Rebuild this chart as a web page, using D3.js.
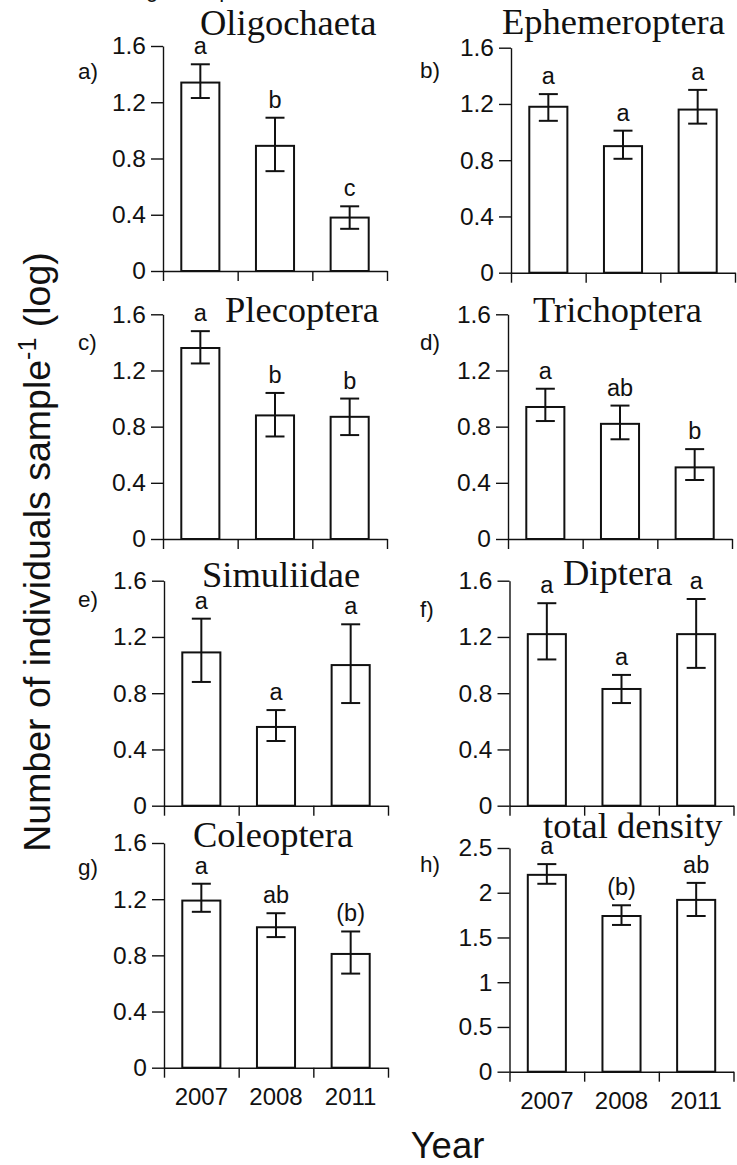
<!DOCTYPE html>
<html>
<head>
<meta charset="utf-8">
<script src="https://cdn.jsdelivr.net/npm/d3@7"></script>
<style>
  body { margin: 0; background: #fff; }
  svg { display: block; }
  text { font-family: "Liberation Sans", Arial, Helvetica, sans-serif; fill: #111; }
  .title { font-family: "Liberation Serif", "Times New Roman", serif; }
</style>
</head>
<body>
<svg id="chart" width="737" height="1165"></svg>
<script>
// chart values
const years = ["2007", "2008", "2011"];
const taxa = ["Oligochaeta", "Ephemeroptera", "Plecoptera", "Trichoptera",
              "Simuliidae", "Diptera", "Coleoptera", "total density"];
const tags = ["a)", "b)", "c)", "d)", "e)", "f)", "g)", "h)"];
const means = [
    [1.34, 0.89, 0.38], [1.18, 0.90, 1.16], [1.36, 0.88, 0.87], [0.94, 0.82, 0.51],
    [1.09, 0.56, 1.00], [1.22, 0.83, 1.22], [1.19, 1.00, 0.81], [2.20, 1.74, 1.92]
];
const errHi = [
    [1.47, 1.09, 0.46], [1.27, 1.01, 1.30], [1.48, 1.04, 1.00], [1.07, 0.95, 0.64],
    [1.33, 0.68, 1.29], [1.44, 0.93, 1.47], [1.31, 1.10, 0.97], [2.32, 1.86, 2.11]
];
const errLo = [
    [1.23, 0.71, 0.30], [1.08, 0.81, 1.06], [1.25, 0.73, 0.74], [0.84, 0.71, 0.42],
    [0.88, 0.46, 0.73], [1.04, 0.73, 0.98], [1.11, 0.93, 0.67], [2.10, 1.64, 1.74]
];
const letters = [
    ["a", "b", "c"], ["a", "a", "a"], ["a", "b", "b"], ["a", "ab", "b"],
    ["a", "a", "a"], ["a", "a", "a"], ["a", "ab", "(b)"], ["a", "(b)", "ab"]
];
const yMax = [1.6, 1.6, 1.6, 1.6, 1.6, 1.6, 1.6, 2.5];
const ticksSmall = [0, 0.4, 0.8, 1.2, 1.6];
const ticksTotal = [0, 0.5, 1, 1.5, 2, 2.5];

// panel placement on the page (axis x, top/bottom of y range, title anchor)
const layout = [
    { x0: 163,   top: 46,    bot: 271,    tx: 200, ty: 34.5, ly: 79 },
    { x0: 511,   top: 47.7,  bot: 272.7,  tx: 502, ty: 34,   ly: 78 },
    { x0: 163,   top: 314.3, bot: 539,    tx: 225, ty: 322,  ly: 350 },
    { x0: 508,   top: 314.3, bot: 539,    tx: 533, ty: 321.7, ly: 350 },
    { x0: 164,   top: 580.7, bot: 805.7,  tx: 202, ty: 586.7, ly: 606.7 },
    { x0: 509.5, top: 580.7, bot: 805.7,  tx: 563, ty: 585,  ly: 616.7 },
    { x0: 164,   top: 843,   bot: 1067.7, tx: 193, ty: 847,  ly: 875 },
    { x0: 509.5, top: 848,   bot: 1071.7, tx: 543, ty: 838,  ly: 871.7 }
];
const plotW = 224;

const svg = d3.select("#chart");

// cut-off text line at the very top of the page
svg.append("text").attr("x", 146).attr("y", -3).attr("font-size", 22)
    .style("white-space", "pre").text("g     ,    p");

taxa.forEach((name, k) => {
    const L = layout[k];
    const g = svg.append("g");
    const y = d3.scaleLinear().domain([0, yMax[k]]).range([L.bot, L.top]);
    const x = d3.scaleBand().domain(years).range([L.x0, L.x0 + plotW])
        .paddingInner(0.49).paddingOuter(0.245);
    const xt = d3.scaleLinear().domain([0, years.length]).range([L.x0, L.x0 + plotW]);

    // y axis
    const ya = g.append("g").attr("transform", `translate(${L.x0},0)`)
        .call(d3.axisLeft(y).tickValues(yMax[k] > 2 ? ticksTotal : ticksSmall)
            .tickFormat(d3.format("~g")).tickSize(12).tickPadding(5).tickSizeOuter(0));
    ya.selectAll("text").attr("font-size", 24.5).attr("font-family", null).attr("fill", "#111");

    // x axis with ticks at the band edges
    g.append("g").attr("transform", `translate(0,${L.bot})`)
        .call(d3.axisBottom(xt).tickValues(d3.range(years.length + 1))
            .tickFormat("").tickSize(10).tickSizeOuter(0));
    g.selectAll(".domain, .tick line").attr("stroke", "#111").attr("stroke-width", 1.4);

    // bars
    g.selectAll("rect.bar").data(means[k]).join("rect").attr("class", "bar")
        .attr("x", (d, i) => x(years[i])).attr("width", x.bandwidth())
        .attr("y", d => y(d)).attr("height", d => y(0) - y(d))
        .attr("fill", "#fff").attr("stroke", "#111").attr("stroke-width", 2);

    // error bars
    const cap = 9.5;
    const eb = g.selectAll("g.err").data(means[k]).join("g").attr("class", "err")
        .attr("stroke", "#111").attr("stroke-width", 2);
    eb.append("line")
        .attr("x1", (d, i) => x(years[i]) + x.bandwidth() / 2).attr("x2", (d, i) => x(years[i]) + x.bandwidth() / 2)
        .attr("y1", (d, i) => y(errHi[k][i])).attr("y2", (d, i) => y(errLo[k][i]));
    [errHi[k], errLo[k]].forEach(arr => {
        eb.append("line")
            .attr("x1", (d, i) => x(years[i]) + x.bandwidth() / 2 - cap)
            .attr("x2", (d, i) => x(years[i]) + x.bandwidth() / 2 + cap)
            .attr("y1", (d, i) => y(arr[i])).attr("y2", (d, i) => y(arr[i]));
    });

    // significance letters
    g.selectAll("text.sig").data(letters[k]).join("text").attr("class", "sig")
        .attr("x", (d, i) => x(years[i]) + x.bandwidth() / 2)
        .attr("y", (d, i) => y(errHi[k][i]) - 10)
        .attr("text-anchor", "middle").attr("font-size", 23.5).text(d => d);

    // year labels on the bottom row only
    if (k >= 6) {
        g.selectAll("text.yr").data(years).join("text").attr("class", "yr")
            .attr("x", d => x(d) + x.bandwidth() / 2).attr("y", L.bot + 37)
            .attr("text-anchor", "middle").attr("font-size", 24).text(d => d);
    }

    // panel tag and taxon title
    g.append("text").attr("x", k % 2 ? 420 : 78).attr("y", L.ly)
        .attr("font-size", 22.5).text(tags[k]);
    g.append("text").attr("class", "title").attr("x", L.tx).attr("y", L.ty)
        .attr("font-size", 36.5).text(name);
});

// shared axis titles
const yt = svg.append("text").attr("transform", "translate(50,552) rotate(-90)")
    .attr("text-anchor", "middle").attr("font-size", 37.5);
yt.append("tspan").text("Number of individuals sample");
yt.append("tspan").attr("font-size", 25).attr("dy", -14).text("-1");
yt.append("tspan").attr("dy", 14).text("  (log)");

svg.append("text").attr("x", 447.5).attr("y", 1158).attr("text-anchor", "middle")
    .attr("font-size", 36.5).text("Year");
</script>
</body>
</html>
